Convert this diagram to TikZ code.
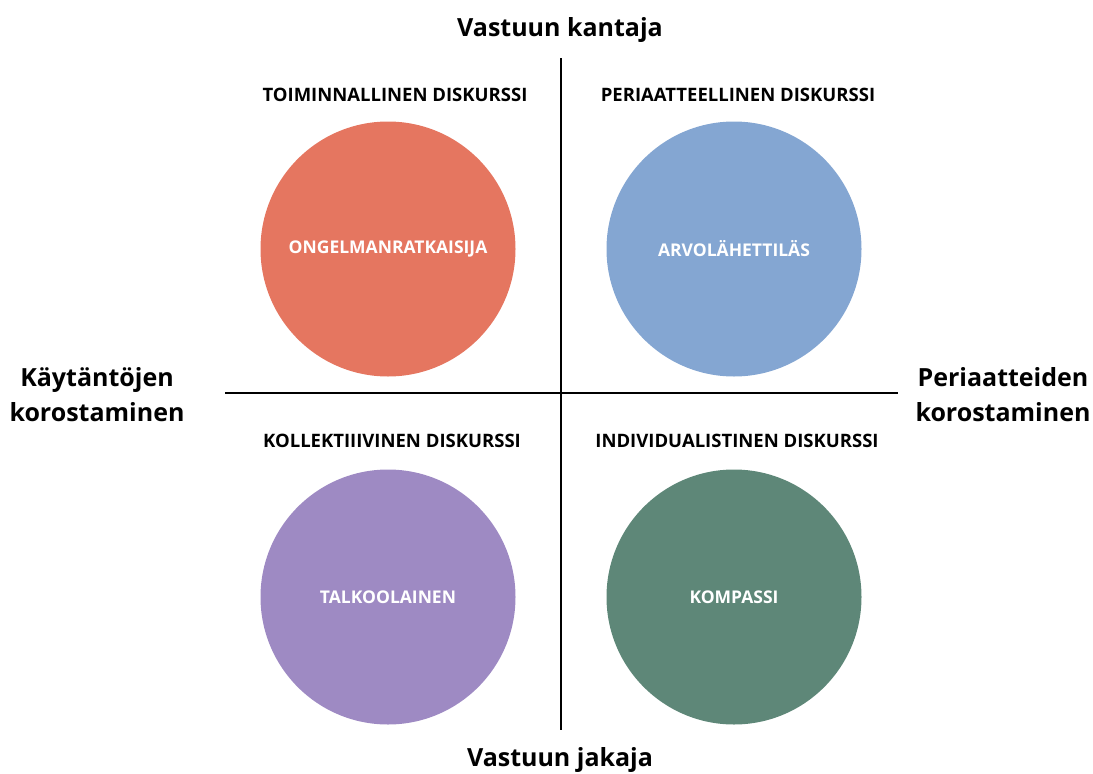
\documentclass[tikz,border=0pt]{standalone}
\usepackage{fontspec}
\setmainfont{Open Sans}[UprightFont=* Bold]
\definecolor{cred}{HTML}{E57660}
\definecolor{cblue}{HTML}{84A6D2}
\definecolor{cpurple}{HTML}{9E8AC3}
\definecolor{cgreen}{HTML}{5E8778}
\tikzset{
  px/.style={x=1pt,y=-1pt},
  axis/.style={line width=2pt,black},
  blob/.style={circle,minimum size=255pt,inner sep=0pt},
  blabel/.style={text=white,font=\fontsize{17.5}{20}\selectfont},
  qtitle/.style={font=\fontsize{18.5}{22}\selectfont},
  atitle/.style={font=\fontsize{25}{35}\selectfont,align=center},
}
\begin{document}
\begin{tikzpicture}[px]
\useasboundingbox (0,0) rectangle (1093,774);
\coordinate (vt) at (561,58);
\coordinate (vb) at (561,730);
\coordinate (hl) at (225,393);
\coordinate (hr) at (898,393);
\draw[axis] (vt) -- (vb);
\draw[axis] (hl) -- (hr);
\node[blob,fill=cred] (c1) at (388,249) {};
\node[blob,fill=cblue] (c2) at (734,249) {};
\node[blob,fill=cpurple] (c3) at (388,597) {};
\node[blob,fill=cgreen] (c4) at (734,597) {};
\node[blabel] (l1) at (c1) {ONGELMANRATKAISIJA};
\node[blabel] (l2) at (c2) {ARVOLÄHETTILÄS};
\node[blabel] (l3) at (c3) {TALKOOLAINEN};
\node[blabel] (l4) at (c4) {KOMPASSI};
\node[qtitle] (q1) at (395,95) {TOIMINNALLINEN DISKURSSI};
\node[qtitle] (q2) at (738,95) {PERIAATTEELLINEN DISKURSSI};
\node[qtitle] (q3) at (392,441) {KOLLEKTIIIVINEN DISKURSSI};
\node[qtitle] (q4) at (737,441) {INDIVIDUALISTINEN DISKURSSI};
\node[atitle] (t) at (560,30) {Vastuun kantaja};
\node[atitle] (b) at (560,760) {Vastuun jakaja};
\node[atitle] (l) at (97,395) {Käytäntöjen\\korostaminen};
\node[atitle] (r) at (1003,395) {Periaatteiden\\korostaminen};
\end{tikzpicture}
\end{document}
